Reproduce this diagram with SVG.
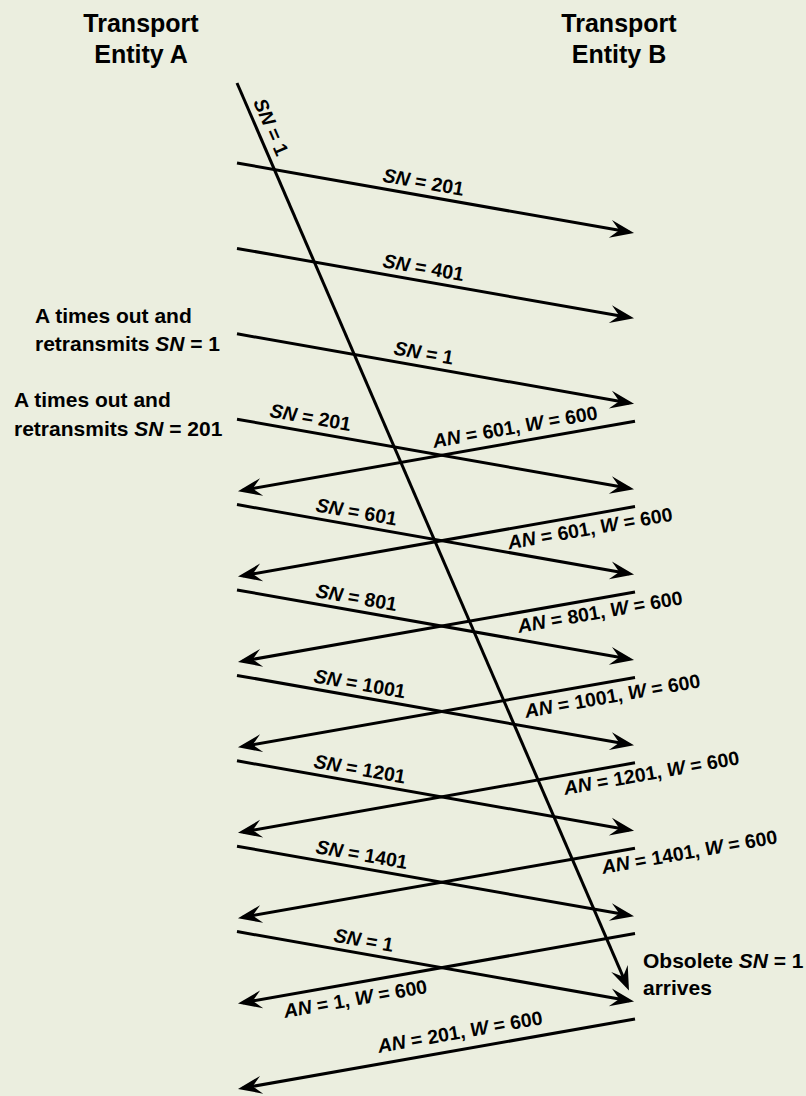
<svg xmlns="http://www.w3.org/2000/svg" width="806" height="1096" viewBox="0 0 806 1096">
<style>
.bg{fill:#EBEEDF}
.t{font-family:"Liberation Sans",Arial,Helvetica,sans-serif;font-weight:bold;fill:#000}
.hd{font-size:25px;text-anchor:middle}
.ann{font-size:21px}
.lb{font-size:19.5px}
.i{font-style:italic}
.ln{stroke:#000;stroke-width:3;fill:none;marker-end:url(#ah)}
</style>
<defs>
<marker id="ah" markerUnits="userSpaceOnUse" orient="auto" viewBox="-22 -10 28 20" refX="0" refY="0" markerWidth="28" markerHeight="20">
<path d="M5,0 L-19,-9 L-10,0 L-19,9 Z" fill="#000"/>
</marker>
</defs>
<rect class="bg" x="0" y="0" width="806" height="1096"/>

<g id="entityA">
<text class="t hd" x="141" y="32">Transport</text>
<text class="t hd" x="141" y="63">Entity A</text>
</g>
<g id="entityB">
<text class="t hd" x="619" y="32">Transport</text>
<text class="t hd" x="619" y="63">Entity B</text>
</g>
<g id="note-timeout1">
<text class="t ann" x="35" y="323">A times out and</text>
<text class="t ann" x="35" y="351">retransmits <tspan class="i">SN</tspan> = 1</text>
</g>
<g id="note-timeout2">
<text class="t ann" x="14" y="407">A times out and</text>
<text class="t ann" x="14" y="436">retransmits <tspan class="i">SN</tspan> = 201</text>
</g>
<g id="note-obsolete">
<text class="t ann" x="643" y="968">Obsolete <tspan class="i">SN</tspan> = 1</text>
<text class="t ann" x="643" y="995">arrives</text>
</g>

<g id="connectors">
<!-- long obsolete SN=1 -->
<line class="ln" x1="237" y1="83" x2="627" y2="985.9"/>
<text class="t lb" transform="translate(253,102) rotate(66.6)"><tspan class="i">SN</tspan> = 1</text>

<!-- forward segments -->
<line class="ln" x1="237" y1="163" x2="629.1" y2="232.1"/>
<line class="ln" x1="237" y1="248.4" x2="629.1" y2="317.5"/>
<line class="ln" x1="237" y1="333.8" x2="629.1" y2="402.9"/>
<line class="ln" x1="237" y1="419.2" x2="629.1" y2="488.3"/>
<line class="ln" x1="237" y1="504.6" x2="629.1" y2="573.7"/>
<line class="ln" x1="237" y1="590" x2="629.1" y2="659.1"/>
<line class="ln" x1="237" y1="675.4" x2="629.1" y2="744.5"/>
<line class="ln" x1="237" y1="760.8" x2="629.1" y2="829.9"/>
<line class="ln" x1="237" y1="846.2" x2="629.1" y2="915.3"/>
<line class="ln" x1="237" y1="931.6" x2="629.1" y2="1000.7"/>

<text class="t lb" transform="translate(382,181.6) rotate(10)"><tspan class="i">SN</tspan> = 201</text>
<text class="t lb" transform="translate(382,267) rotate(10)"><tspan class="i">SN</tspan> = 401</text>
<text class="t lb" transform="translate(393,354.3) rotate(10)"><tspan class="i">SN</tspan> = 1</text>
<text class="t lb" transform="translate(269,416.8) rotate(10)"><tspan class="i">SN</tspan> = 201</text>
<text class="t lb" transform="translate(315,511.3) rotate(10)"><tspan class="i">SN</tspan> = 601</text>
<text class="t lb" transform="translate(315,597) rotate(10)"><tspan class="i">SN</tspan> = 801</text>
<text class="t lb" transform="translate(313,682.3) rotate(10)"><tspan class="i">SN</tspan> = 1001</text>
<text class="t lb" transform="translate(313,767.5) rotate(10)"><tspan class="i">SN</tspan> = 1201</text>
<text class="t lb" transform="translate(315,853) rotate(10)"><tspan class="i">SN</tspan> = 1401</text>
<text class="t lb" transform="translate(333,941.5) rotate(10)"><tspan class="i">SN</tspan> = 1</text>

<!-- backward segments -->
<line class="ln" x1="635" y1="421.2" x2="242.9" y2="490.3"/>
<line class="ln" x1="635" y1="506.6" x2="242.9" y2="575.7"/>
<line class="ln" x1="635" y1="592" x2="242.9" y2="661.1"/>
<line class="ln" x1="635" y1="677.4" x2="242.9" y2="746.5"/>
<line class="ln" x1="635" y1="762.8" x2="242.9" y2="831.9"/>
<line class="ln" x1="635" y1="848.2" x2="242.9" y2="917.3"/>
<line class="ln" x1="635" y1="933.6" x2="242.9" y2="1002.7"/>
<line class="ln" x1="635" y1="1019" x2="242.9" y2="1088.1"/>

<text class="t lb" transform="translate(434,448) rotate(-10)"><tspan class="i">AN</tspan> = 601, <tspan class="i">W</tspan> = 600</text>
<text class="t lb" transform="translate(509,549.5) rotate(-10)"><tspan class="i">AN</tspan> = 601, <tspan class="i">W</tspan> = 600</text>
<text class="t lb" transform="translate(519,633) rotate(-10)"><tspan class="i">AN</tspan> = 801, <tspan class="i">W</tspan> = 600</text>
<text class="t lb" transform="translate(526,718) rotate(-10)"><tspan class="i">AN</tspan> = 1001, <tspan class="i">W</tspan> = 600</text>
<text class="t lb" transform="translate(565,795) rotate(-10)"><tspan class="i">AN</tspan> = 1201, <tspan class="i">W</tspan> = 600</text>
<text class="t lb" transform="translate(603,874) rotate(-10)"><tspan class="i">AN</tspan> = 1401, <tspan class="i">W</tspan> = 600</text>
<text class="t lb" transform="translate(285,1018) rotate(-10)"><tspan class="i">AN</tspan> = 1, <tspan class="i">W</tspan> = 600</text>
<text class="t lb" transform="translate(379,1053) rotate(-10)"><tspan class="i">AN</tspan> = 201, <tspan class="i">W</tspan> = 600</text>
</g>
</svg>
